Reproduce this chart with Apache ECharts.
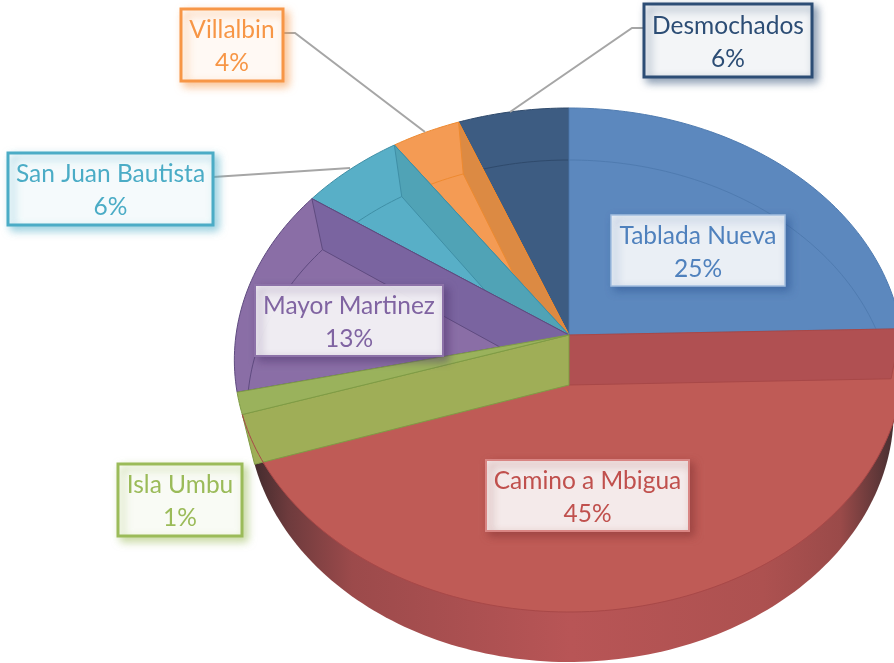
<!DOCTYPE html>
<html>
<head>
<meta charset="utf-8">
<style>html,body{margin:0;padding:0;background:#fff}#c{width:894px;height:663px}</style>
<script src="https://cdn.jsdelivr.net/npm/echarts@6/dist/echarts.min.js"></script>
</head>
<body>
<div id="c"></div>
<script>
var sliceNames  = ['Tablada Nueva','Camino a Mbigua','Isla Umbu','Mayor Martinez','San Juan Bautista','Villalbin','Desmochados'];
var sliceValues = [24.6,45.4,1.4,13.4,5.6,3.7,5.9];
var faceColors  = ['#5C88BE','#BF5B56','#9AB25C','#8A6EA6','#58AFC7','#F49B54','#3D5C82'];
var wallColors  = ['#5C88BE','#B05052','#9FAE57','#7A64A0','#50A3B6','#DC8A43','#3D5C82'];
var edgeColors  = ['#4F7BB0','#A84848','#7F9C45','#5F4B80','#3F8FA6','#EE8A30','#2F4A6C'];
var textColors  = ['#4F81BD','#C0504D','#9BBB59','#8064A2','#4BACC6','#F79646','#2C4D75'];
var borderColors= ['#A3BEDF','#D98583','#9BBB59','#8C72A8','#4BACC6','#F79646','#2C4D75'];
var shadowColors= ['rgba(50,90,150,0.7)','rgba(130,50,50,0.6)','rgba(155,187,89,0.6)','rgba(80,55,110,0.6)','rgba(75,172,198,0.6)','rgba(247,150,70,0.6)','rgba(44,77,117,0.6)'];
var borderWidths= [1.5,2,3,2,3,3,3];
// Paint order, back to front
var paintOrder  = [6,5,4,3,0,1,2];

var cx = 569;
var top_ = {cy:335, aL:333, aR:333, up:227, down:277};
var low_ = {cy:385, aL:320, aR:323, up:225, down:277};

var boxes = [
  {x:611,y:215,w:174,h:71},
  {x:486,y:460,w:203,h:71},
  {x:118,y:464,w:124,h:72},
  {x:255,y:285,w:188,h:71},
  {x:8,y:153,w:205,h:72},
  {x:181,y:9,w:102,h:72},
  {x:644,y:4,w:168,h:73}
];
var leaders = [null,null,null,null,
  [[213,177],[350,168]],
  [[283,33],[295,33],[425,132]],
  [[643,28],[632,28],[510,112]]
];

var total = sliceValues.reduce(function(a,b){return a+b;},0);
var cum = [0];
sliceValues.forEach(function(v,i){cum.push(cum[i]+v);});

function project(s, frac){
  var t = frac/total*Math.PI*2, su = Math.sin(t), cu = Math.cos(t);
  var k = (s.down-s.up)/(s.down+s.up), b = s.up*(1+k), d = 1+k*cu;
  var a = su>=0 ? s.aR : s.aL;
  return [cx + a*su/d, s.cy - b*cu/d];
}
function arc(s,f0,f1){
  var pts=[], n=Math.max(8,Math.ceil(Math.abs(f1-f0)*3));
  for(var i=0;i<=n;i++) pts.push(project(s,f0+(f1-f0)*i/n));
  return pts;
}
var P1=[cx,top_.cy], P2=[cx,low_.cy];

function poly(points,fill,stroke,lw){
  return {type:'polygon',shape:{points:points},style:{fill:fill,stroke:stroke||null,lineWidth:lw||0}};
}
function line(points,stroke,lw){
  return {type:'polyline',shape:{points:points},style:{fill:null,stroke:stroke,lineWidth:lw||1}};
}
function wall(f,fill,stroke){
  return poly([P1,project(top_,f),project(low_,f),P2],fill,stroke,1);
}

function renderSlice(params,api){
  var i=api.value(0), f0=cum[i], f1=cum[i+1], ch=[];
  var face=faceColors[i], w=wallColors[i], e=edgeColors[i];
  if(i===1){
    var rim={type:'linear',x:250,y:0,x2:892,y2:0,global:true,colorStops:[
      {offset:0,color:'#3F2A2C'},{offset:0.06,color:'#6E3B3D'},{offset:0.16,color:'#9C4A4B'},
      {offset:0.5,color:'#B85556'},{offset:0.8,color:'#AD5150'},{offset:0.92,color:'#9A4A49'},{offset:1,color:'#4A3032'}]};
    ch.push(poly([P2].concat(arc(low_,f0,f1)),rim));
    ch.push(poly([P1].concat(arc(top_,f0,f1)),face));
    ch.push(line(arc(top_,f0,f1),e,1));
    ch.push(wall(f0,w,e));
  } else if(i===2){
    ch.push(wall(f0,w,e));
    ch.push(poly([P1].concat(arc(top_,f0,f1)),face,e,1));
    ch.push(line(arc(top_,f0-3.2,f0),edgeColors[1],1));
  } else {
    ch.push(poly([P1].concat(arc(top_,f0,f1)),face,e,1));
    if(i>2 && i<6) ch.push(wall(f1,w,e));
    ch.push(line(arc(low_,f0,f1),e,1));
  }
  return {type:'group',children:ch};
}

function renderLabel(params,api){
  var i=api.value(0), b=boxes[i], ch=[];
  if(leaders[i]) ch.push(line(leaders[i],'#A6A6A6',2));
  ch.push({type:'rect',shape:{x:b.x,y:b.y,width:b.w,height:b.h},
    style:{fill:'rgba(255,255,255,0.89)',stroke:borderColors[i],lineWidth:borderWidths[i],
      shadowBlur:8,shadowOffsetX:4,shadowOffsetY:4,shadowColor:shadowColors[i]}});
  ch.push({type:'text',style:{
    text:sliceNames[i]+'\n'+Math.round(sliceValues[i])+'%',
    x:b.x+b.w/2,y:b.y+b.h/2+2,align:'center',verticalAlign:'middle',
    fill:textColors[i],font:'24.5px Lato',lineHeight:33}});
  return {type:'group',children:ch};
}

var chart=echarts.init(document.getElementById('c'),null,{renderer:'canvas'});
chart.setOption({
  animation:false,
  backgroundColor:'#fff',
  series:[
    {type:'custom',coordinateSystem:'none',silent:true,z:2,clip:false,
      data:paintOrder.map(function(i){return [i];}),renderItem:renderSlice},
    {type:'custom',coordinateSystem:'none',silent:true,z:3,clip:false,
      data:sliceNames.map(function(n,i){return [i];}),renderItem:renderLabel}
  ]
});
</script>
</body>
</html>
